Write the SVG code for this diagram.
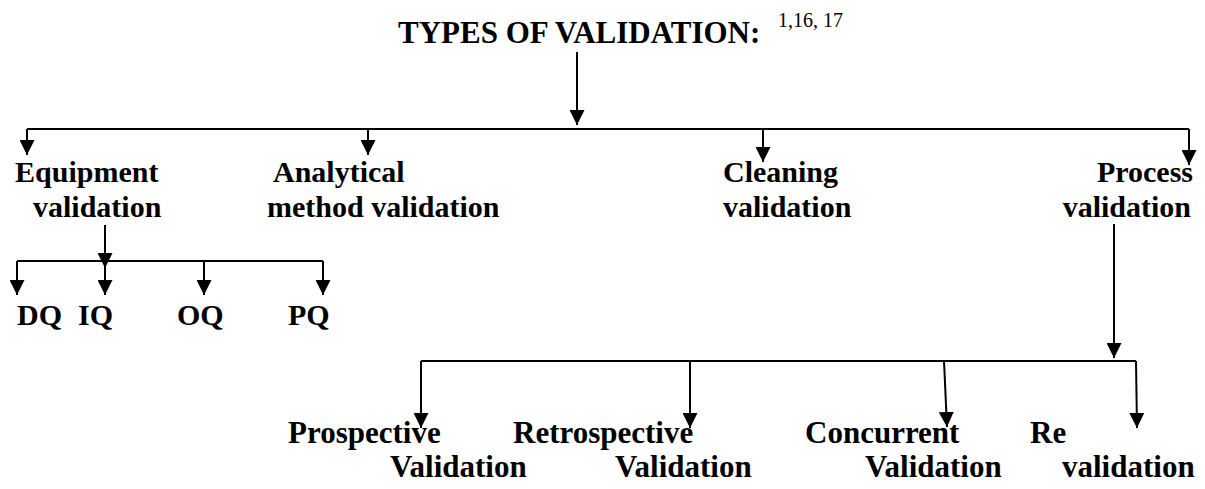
<svg xmlns="http://www.w3.org/2000/svg" width="1205" height="489" viewBox="0 0 1205 489">
<style>
text{font-family:"Liberation Serif","Times New Roman",serif;fill:#000}
.t{font-weight:bold;font-size:30px}
.b{font-weight:bold;font-size:31px}
.h{font-weight:bold;font-size:31px}
.sup{font-size:20px}
.c line{stroke:#000;stroke-width:2;fill:none}
.c line.a{marker-end:url(#ah)}
</style>
<defs>
<marker id="ah" markerUnits="userSpaceOnUse" markerWidth="15" markerHeight="15" viewBox="0 0 15 15" refX="15" refY="7.5" orient="auto">
<path d="M0,0 L15,7.5 L0,15 Z" fill="#000"/>
</marker>
</defs>
<rect width="1205" height="489" fill="#fff"/>
<g id="title">
<text class="h" x="398" y="43">TYPES OF VALIDATION:</text>
<text class="sup" x="778" y="27">1,16, 17</text>
</g>
<g id="equipment"><text class="t" x="15" y="182">Equipment</text><text class="t" x="33" y="217">validation</text></g>
<g id="analytical"><text class="t" x="273" y="182">Analytical</text><text class="t" x="267" y="217">method validation</text></g>
<g id="cleaning"><text class="t" x="723" y="182">Cleaning</text><text class="t" x="723" y="217">validation</text></g>
<g id="process"><text class="t" x="1193" y="182" text-anchor="end">Process</text><text class="t" x="1191" y="217" text-anchor="end">validation</text></g>
<g id="dq"><text class="t" x="17" y="325">DQ</text></g>
<g id="iq"><text class="t" x="78" y="325">IQ</text></g>
<g id="oq"><text class="t" x="177" y="325">OQ</text></g>
<g id="pq"><text class="t" x="288" y="325">PQ</text></g>
<g id="prospective"><text class="b" x="288" y="443">Prospective</text><text class="b" x="390" y="477">Validation</text></g>
<g id="retrospective"><text class="b" x="513" y="443">Retrospective</text><text class="b" x="615" y="477">Validation</text></g>
<g id="concurrent"><text class="b" x="805" y="443">Concurrent</text><text class="b" x="865" y="477">Validation</text></g>
<g id="revalidation"><text class="b" x="1030" y="443">Re</text><text class="b" x="1062" y="477">validation</text></g>
<g id="connectors" class="c">
<line class="a" x1="577" y1="52" x2="577" y2="125"/>
<line x1="27" y1="129" x2="1189" y2="129"/>
<line class="a" x1="27" y1="129" x2="27" y2="155"/>
<line class="a" x1="368" y1="129" x2="368" y2="155"/>
<line class="a" x1="763" y1="129" x2="763" y2="162"/>
<line class="a" x1="1189" y1="129" x2="1189" y2="165"/>
<line class="a" x1="105" y1="225" x2="105" y2="268"/>
<line x1="17" y1="261" x2="323" y2="261"/>
<line class="a" x1="17" y1="261" x2="17" y2="295"/>
<line class="a" x1="105" y1="261" x2="105" y2="295"/>
<line class="a" x1="204" y1="261" x2="204" y2="295"/>
<line class="a" x1="323" y1="261" x2="323" y2="295"/>
<line class="a" x1="1114" y1="224" x2="1114" y2="358"/>
<line x1="421" y1="361" x2="1136" y2="361"/>
<line class="a" x1="421" y1="361" x2="421" y2="428"/>
<line class="a" x1="690" y1="361" x2="690" y2="428"/>
<line class="a" x1="944" y1="361" x2="947" y2="427"/>
<line class="a" x1="1136" y1="361" x2="1137" y2="428"/>
</g>
</svg>
